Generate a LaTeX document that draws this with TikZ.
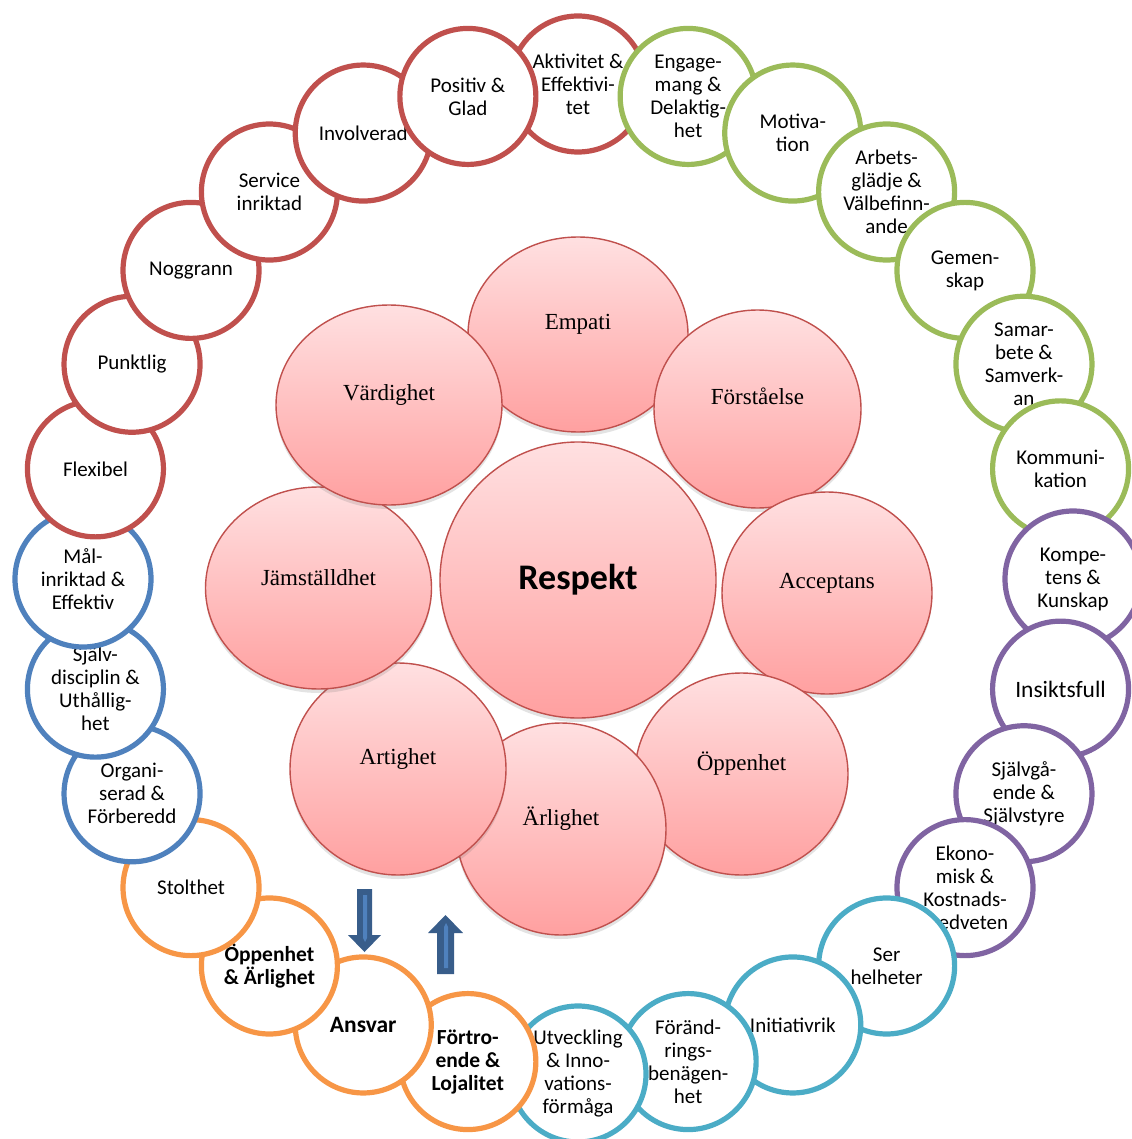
\documentclass[tikz,border=0pt]{standalone}
\usepackage{fontspec}
\setmainfont{Carlito}
\newfontfamily\petalfont{Liberation Serif}
\usetikzlibrary{shapes.geometric,shadows}

\definecolor{ringred}{HTML}{C0504D}
\definecolor{ringgreen}{HTML}{9BBB59}
\definecolor{ringblue}{HTML}{4F81BD}
\definecolor{ringorange}{HTML}{F79646}
\definecolor{ringteal}{HTML}{4BACC6}
\definecolor{ringpurple}{HTML}{8064A2}
\definecolor{petaltop}{HTML}{FFE0E1}
\definecolor{petalbot}{HTML}{FFA0A0}
\definecolor{petalline}{HTML}{C0504D}
\definecolor{arrowdark}{HTML}{385D8A}
\definecolor{arrowlight}{HTML}{4F81BD}

\tikzset{
  ring/.style={circle, draw=#1, line width=5.2pt, fill=white, minimum size=136pt,
    inner sep=0pt, align=center, text=black},
  lblreg/.style={font=\fontsize{21}{23}\selectfont},
  lblbig/.style={font=\fontsize{23.5}{26}\selectfont},
  lblbold/.style={font=\bfseries\fontsize{21.5}{23}\selectfont},
  lblbigbold/.style={font=\bfseries\fontsize{23.5}{26}\selectfont},
  petal/.style 2 args={ellipse, minimum width=#1, minimum height=#2, inner sep=0pt,
    draw=petalline, line width=1.4pt, top color=petaltop, bottom color=petalbot,
    drop shadow={shadow xshift=0pt, shadow yshift=-4pt, opacity=0.18, fill=black!60},
    font=\petalfont\fontsize{23}{26}\selectfont},
}

\begin{document}
\begin{tikzpicture}[x=1pt,y=-1pt]
\useasboundingbox (0,0) rectangle (1131,1139);
\fill[white] (0,0) rectangle (1131,1139);

% outer ring of 28 circles; each one overlaps its neighbour counter-clockwise
\foreach \k/\col/\fnt/\txt in {
  0/ringred/lblreg/{Aktivitet \&\\Effektivi-\\tet},
  27/ringgreen/lblreg/{Engage-\\mang \&\\Delaktig-\\het},
  26/ringgreen/lblreg/{Motiva-\\tion},
  25/ringgreen/lblreg/{Arbets-\\glädje \&\\Välbefinn-\\ande},
  24/ringgreen/lblreg/{Gemen-\\skap},
  23/ringgreen/lblreg/{Samar-\\bete \&\\Samverk-\\an},
  22/ringgreen/lblreg/{Kommuni-\\kation},
  21/ringpurple/lblreg/{Kompe-\\tens \&\\Kunskap},
  20/ringpurple/lblbig/{Insiktsfull},
  19/ringpurple/lblreg/{Självgå-\\ende \&\\Självstyre},
  18/ringpurple/lblreg/{Ekono-\\misk \&\\Kostnads-\\medveten},
  17/ringteal/lblreg/{Ser\\helheter},
  16/ringteal/lblreg/{Initiativrik},
  15/ringteal/lblreg/{Föränd-\\rings-\\benägen-\\het},
  14/ringteal/lblreg/{Utveckling\\\& Inno-\\vations-\\förmåga},
  13/ringorange/lblbold/{Förtro-\\ende \&\\Lojalitet},
  12/ringorange/lblbigbold/{Ansvar},
  11/ringorange/lblbold/{Öppenhet\\\& Ärlighet},
  10/ringorange/lblreg/{Stolthet},
  9/ringblue/lblreg/{Organi-\\serad \&\\Förberedd},
  8/ringblue/lblreg/{Själv-\\disciplin \&\\Uthållig-\\het},
  7/ringblue/lblreg/{Mål-\\inriktad \&\\Effektiv},
  6/ringred/lblreg/{Flexibel},
  5/ringred/lblreg/{Punktlig},
  4/ringred/lblreg/{Noggrann},
  3/ringred/lblreg/{Service\\inriktad},
  2/ringred/lblreg/{Involverad},
  1/ringred/lblreg/{Positiv \&\\Glad}}
  \node[ring=\col, \fnt] (r\k) at ({578+495*cos(90+\k*360/28)},{579-495*sin(90+\k*360/28)}) {\txt};

% central flower
\node[petal={276pt}{276pt}, font=\bfseries\fontsize{36}{40}\selectfont] (respekt) at (578,580) {\raisebox{-5pt}{Respekt}};
\node[petal={220pt}{195pt}] (empati) at (578,334.5) {\raisebox{25pt}{Empati}};
\node[petal={207pt}{198pt}] (forstaelse) at (757.5,409) {\raisebox{26pt}{Förståelse}};
\node[petal={210pt}{202pt}] (acceptans) at (827,593) {\raisebox{25pt}{Acceptans}};
\node[petal={213pt}{202pt}] (oppenhet) at (741.5,774) {\raisebox{26pt}{Öppenhet}};
\node[petal={210pt}{212pt}] (arlighet) at (561,829) {\raisebox{25pt}{Ärlighet}};
\node[petal={216pt}{212pt}] (artighet) at (398,769) {\raisebox{25pt}{Artighet}};
\node[petal={226pt}{202pt}] (jamstalldhet) at (318.5,588) {\raisebox{20pt}{Jämställdhet}};
\node[petal={226pt}{200pt}] (vardighet) at (389,405) {\raisebox{25pt}{Värdighet}};

% block arrows between the ring and the flower
\fill[arrowdark] (357,889) -- (372,889) -- (372,935) -- (381,935) -- (364.5,952)
  -- (348,935) -- (357,935) -- cycle;
\fill[arrowlight] (363,895) -- (367,895) -- (367,938) -- (365,942) -- (363,938) -- cycle;
\fill[arrowdark] (437,974) -- (454,974) -- (454,933) -- (463,933) -- (445.5,915)
  -- (428,933) -- (437,933) -- cycle;
\fill[arrowlight] (444,968) -- (448,968) -- (448,927) -- (446,923) -- (444,927) -- cycle;
\end{tikzpicture}
\end{document}
